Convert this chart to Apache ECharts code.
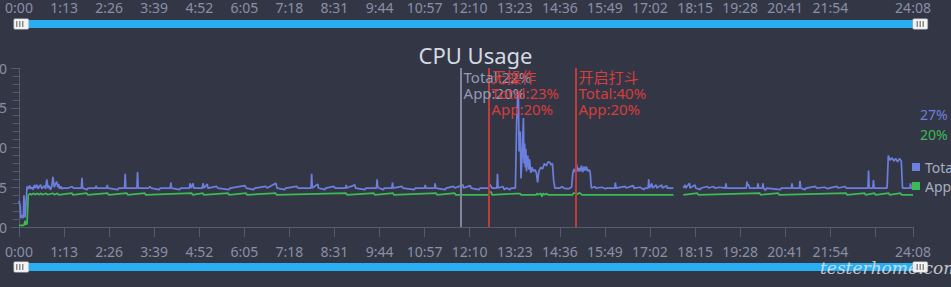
<!DOCTYPE html>
<html><head><meta charset="utf-8">
<script src="https://cdn.jsdelivr.net/npm/echarts@6/dist/echarts.min.js"></script>
<style>html,body{margin:0;padding:0;background:#333745;}#c{width:951px;height:287px;}</style>
</head><body><div id="c"></div>
<script>
// ---- data (seconds, percent-ish units) ----
const xTickLabels = ['0:00','1:13','2:26','3:39','4:52','6:05','7:18','8:31','9:44','10:57','12:10','13:23','14:36','15:49','17:02','18:15','19:28','20:41','21:54','','24:08'];
const xMax = 1448;
const seriesNames = ['Total','App'];
const totalPoints = [
[0,3.3],[1,3.3],[2,2.6],[3,1.1],[5,1.5],[7,1.1],[8,4.0],[10,1.2],[11,1.2],[13,5.1],
[15,4.8],[17,5.2],[19,4.8],[21,5.0],[23,4.7],[25,5.3],[27,4.9],[29,5.3],[31,4.8],[33,5.1],[35,5.3],[37,4.8],[39,5.0],[41,5.2],[43,4.8],[45,6.0],[47,4.9],[49,5.2],[51,4.7],[53,5.1],[55,6.3],[57,5.0],[59,5.4],[61,5.7],[63,5.0],[64,5.4],[66,4.8],[68,5.1],[70,4.8],[72,4.9],
[80,4.9],[86,5.1],[88,4.9],[101,4.9],[102,6.2],[103,4.9],[110,4.7],[112,4.9],[124,4.9],[125,5.2],[126,4.9],[142,4.9],[143,5.3],[144,4.9],[160,4.7],[162,4.9],[171,4.9],[172,6.7],[173,4.9],[191,4.9],[192,6.9],[193,4.9],[210,4.9],[212,5.1],[214,4.9],[227,4.7],[229,4.9],[245,4.9],[246,5.6],[247,4.9],[260,4.7],[262,4.9],[276,4.9],[277,5.5],[279,4.9],[282,5.5],[283,4.9],[297,4.9],[298,5.5],[300,4.9],[305,5.4],[306,4.9],[320,5.1],[322,4.9],[340,4.7],[342,4.9],[366,5.2],[368,4.9],[380,4.7],[382,4.9],[400,5.1],[402,4.9],[416,5.5],[418,4.9],[430,4.7],[432,4.9],[450,5.1],[452,4.9],[473,4.9],[474,6.7],[475,4.9],[484,5.4],[485,4.9],[495,4.7],[497,4.9],[510,5.1],[512,4.9],[529,4.9],[530,5.3],[531,4.9],[544,5.3],[545,4.9],[560,4.7],[562,4.9],[579,4.9],[580,6.0],[581,5.0],[583,4.9],[590,4.7],[592,4.9],[604,4.9],[605,5.6],[606,4.9],[620,5.1],[622,4.9],[640,4.7],[642,4.9],[657,4.9],[658,5.3],[659,4.9],[673,4.9],[674,5.5],[675,4.9],[690,4.7],[692,4.9],[704,5.1],[706,4.9],[719,5.3],[720,4.9],[731,5.2],[732,4.9],[745,4.7],[747,4.9],[761,4.9],[762,5.4],[764,5.2],[766,4.9],[774,4.9],[775,6.7],[776,4.9],[784,5.1],[786,4.7],[790,4.9],[795,4.7],[797,4.9],[804,4.9],
[806,13.0],[808,17.0],[809,16.0],[810,9.5],[812,12.0],[813,6.1],[815,9.0],[817,13.7],[818,8.0],[819,10.5],[820,7.5],[821,9.8],[822,7.0],[824,9.0],[826,7.2],[827,8.5],[829,6.8],[831,7.5],[833,7.0],[836,7.2],[838,6.8],[840,5.6],[842,7.0],[845,7.5],[848,7.3],[851,8.0],[854,7.7],[857,8.2],[860,8.1],[862,7.8],[864,8.0],[866,5.8],[868,4.9],
[876,4.9],[880,5.1],[882,4.9],[890,4.8],[895,5.0],[897,6.8],[899,7.3],[901,6.9],[903,7.9],[905,7.0],[907,7.4],[909,7.0],[911,7.7],[913,6.9],[915,7.6],[917,7.1],[919,7.6],[921,7.0],[923,7.2],[925,7.0],[927,4.9],
[933,5.1],[934,4.9],[944,5.0],[950,4.8],[952,4.9],[965,4.9],[966,5.6],[967,4.9],[982,5.1],[983,4.9],[995,5.2],[996,4.9],[1006,5.0],[1012,4.7],[1014,4.9],[1019,4.9],[1020,6.0],[1021,4.9],[1025,5.5],[1026,4.9],[1032,5.3],[1033,4.9],[1041,5.3],[1042,4.9],[1049,5.2],[1050,4.9],[1060,4.9],[1068,'-'],
[1076,4.9],[1079,5.3],[1080,4.9],[1086,5.5],[1087,4.9],[1095,5.3],[1096,4.9],[1103,4.7],[1105,4.9],[1115,5.1],[1117,4.9],[1125,5.1],[1127,4.9],[1135,5.0],[1144,4.9],[1145,5.5],[1146,4.9],[1160,4.9],[1178,4.9],[1179,5.7],[1180,5.3],[1182,5.3],[1183,4.9],[1196,4.9],[1197,5.5],[1198,4.9],[1204,4.9],[1205,5.5],[1206,4.9],[1209,4.6],[1211,4.9],[1233,4.7],[1235,4.9],[1251,4.9],[1252,5.5],[1253,4.9],[1264,4.9],[1265,5.8],[1266,4.9],[1273,4.7],[1275,4.9],[1290,5.1],[1292,4.9],[1305,5.0],[1310,4.8],[1312,4.9],[1325,5.1],[1327,4.9],[1338,5.1],[1340,4.9],[1375,4.9],[1376,7.1],[1377,4.9],[1383,4.9],[1384,5.9],[1385,4.9],[1406,4.9],[1408,9.0],[1411,8.4],[1414,8.7],[1417,8.3],[1420,8.6],[1423,8.2],[1426,8.6],[1429,8.3],[1431,4.9],[1443,4.9],[1444,5.5],[1445,4.9],[1448,4.9]
];
const appPoints = [
[0,0.2],[8,0.2],[10,0.8],[11,0.3],[13,0.4],[15,4.0],[18,4.2],[20,4.05],[24,4.25],[26,4.05],[30,4.25],[32,4.05],[36,4.25],[38,4.05],[44,4.25],[46,4.05],[55,4.25],[57,4.05],[62,4.25],[64,4.05],[86,4.25],[87,4.05],[110,4.25],[111,4.05],[144,4.25],[145,4.05],[175,4.25],[176,4.05],[204,4.25],[205,4.05],[280,4.25],[281,4.05],[298,4.25],[299,4.05],[339,4.25],[340,4.05],[368,4.25],[369,4.05],[416,4.25],[417,4.05],[530,4.25],[531,4.05],[575,4.25],[576,4.05],[606,4.25],[607,4.05],[676,4.25],[677,4.05],[706,4.25],[707,4.05],[761,4.05],[762,4.4],[765,4.4],[766,4.05],[805,4.2],[812,4.2],[813,4.05],[838,4.05],[839,4.25],[841,4.05],[845,4.25],[847,3.8],[849,4.25],[851,4.05],[855,4.2],[857,4.05],[897,4.05],[898,4.25],[903,4.25],[904,4.1],[908,4.3],[912,4.05],[1060,4.05],[1068,'-'],
[1076,4.05],[1099,4.25],[1100,4.05],[1200,4.25],[1201,4.05],[1230,4.25],[1231,4.05],[1340,4.25],[1341,4.05],[1370,4.25],[1371,4.05],[1386,4.25],[1387,4.05],[1409,4.25],[1410,4.05],[1428,4.25],[1429,4.05],[1448,4.05]
];
const noteTimes = [716, 761, 902];
const noteTexts = ['Total:22%\nApp:20%', '无操作\nTotal:23%\nApp:20%', '开启打斗\nTotal:40%\nApp:20%'];
const currentValues = ['27%', '20%'];

// ---- styling ----
const BG = '#333745', AX = '#555a6c', LBL = '#8a8fa6';
const BLUE = '#6d7fde', GREEN = '#3dba55', RED = '#c23a3a', REDTXT = '#d83c3c', GREY = '#7f869c', GREYTXT = '#939ab4';
const FONT = 'Noto Sans';
const fmtX = v => { if (v === xMax) return xTickLabels[xTickLabels.length-1]; const i = Math.round(v/73); return (v % 73 === 0 && xTickLabels[i] !== undefined) ? xTickLabels[i] : ''; };
const xAxisBase = (gi) => ({
  type:'value', gridIndex: gi, min:0, max:xMax, interval:73,
  axisLine:{lineStyle:{color:AX}}, axisTick:{length:10, lineStyle:{color:AX}},
  splitLine:{show:false},
  axisLabel:{color:LBL, fontFamily:FONT, fontSize:14, margin:17, formatter:fmtX, showMaxLabel:true, hideOverlap:false}
});
const sliderBase = (axisIdx, top) => ({
  type:'slider', xAxisIndex:[axisIdx], start:0, end:100, left:19, right:31, top:top, height:8,
  showDetail:false, showDataShadow:false, brushSelect:false, moveHandleSize:0,
  backgroundColor:'#2a2d38', borderColor:'transparent', fillerColor:'#2aaef3',
  dataBackground:{lineStyle:{opacity:0}, areaStyle:{opacity:0}},
  selectedDataBackground:{lineStyle:{opacity:0}, areaStyle:{opacity:0}},
  handleIcon:'path://M2,0 H19 Q21,0 21,2 V13 Q21,15 19,15 H2 Q0,15 0,13 V2 Q0,0 2,0 Z',
  handleSize:15, handleStyle:{color:'#f4f4f4', borderColor:'#9a9a9a', borderWidth:0.5},
  emphasis:{handleStyle:{color:'#f4f4f4'}}
});
const grips = [];
[[20,264],[920.5,264],[20,21],[920.5,21]].forEach(([cx,cy]) => {
  [-4,-1,2].forEach(dx => grips.push({type:'rect', shape:{x:cx+dx, y:cy, width:1.5, height:6}, style:{fill:'#8c8c8c'}, z:100}));
});

const chart = echarts.init(document.getElementById('c'), null, {renderer:'svg'});
chart.setOption({
  backgroundColor: BG,
  animation:false,
  title:{text:'CPU Usage', left:'center', top:39, textStyle:{color:'#d6d9e2', fontFamily:FONT, fontSize:22, fontWeight:'normal'}},
  legend:{data:seriesNames, orient:'vertical', left:912, top:160, padding:0, icon:'rect', itemWidth:8, itemHeight:8, itemGap:5,
    textStyle:{color:'#a9aec0', fontFamily:FONT, fontSize:14}},
  grid:[{left:19, right:38, top:68, height:159, outerBoundsMode:'none', containLabel:false},
        {left:19, right:38, top:-40, height:23, outerBoundsMode:'none', containLabel:false}],
  xAxis:[xAxisBase(0), xAxisBase(1)],
  yAxis:[
    {type:'value', gridIndex:0, min:0, max:20, interval:5,
     axisLine:{show:true, lineStyle:{color:AX}}, axisTick:{show:true, length:8, lineStyle:{color:AX}},
     minorTick:{show:true, splitNumber:5, length:6, lineStyle:{color:AX}},
     splitLine:{show:false}, axisLabel:{color:LBL, fontFamily:FONT, fontSize:14, margin:12}},
    {type:'value', gridIndex:1, show:false, min:0, max:1}
  ],
  dataZoom:[sliderBase(0, 263), sliderBase(1, 20)],
  series:[
    {name:'Total', type:'line', xAxisIndex:0, yAxisIndex:0, data:totalPoints, showSymbol:false, connectNulls:false,
     lineStyle:{color:BLUE, width:1.7}, itemStyle:{color:BLUE},
     markLine:{silent:true, symbol:['none','none'], label:{show:false},
       data:noteTimes.map((t,i)=>({xAxis:t, lineStyle:{color: i===0?GREY:RED, width:2, type:'solid'}}))},
     markPoint:{silent:true, symbol:'rect', symbolSize:1, itemStyle:{color:'rgba(0,0,0,0)'},
       data:noteTimes.map((t,i)=>({coord:[t,20], label:{show:true, position:[3,1], align:'left', verticalAlign:'top',
         formatter:noteTexts[i], color: i===0?GREYTXT:REDTXT, fontFamily:FONT+', Noto Sans CJK SC', fontSize:15, lineHeight:16}}))}
    },
    {name:'App', type:'line', xAxisIndex:0, yAxisIndex:0, data:appPoints, showSymbol:false, connectNulls:false,
     lineStyle:{color:GREEN, width:1.7}, itemStyle:{color:GREEN}}
  ],
  graphic:[
    {type:'text', left:920, top:107, style:{text:currentValues[0], fill:BLUE, font:'14px "Noto Sans"'}},
    {type:'text', left:920, top:127, style:{text:currentValues[1], fill:GREEN, font:'14px "Noto Sans"'}},
    {type:'text', left:820, top:259, style:{text:'testerhome.com', fill:'rgba(235,235,235,0.8)', font:'italic 17px "DejaVu Serif"'}, z:50},
    ...grips
  ]
});
</script></body></html>
